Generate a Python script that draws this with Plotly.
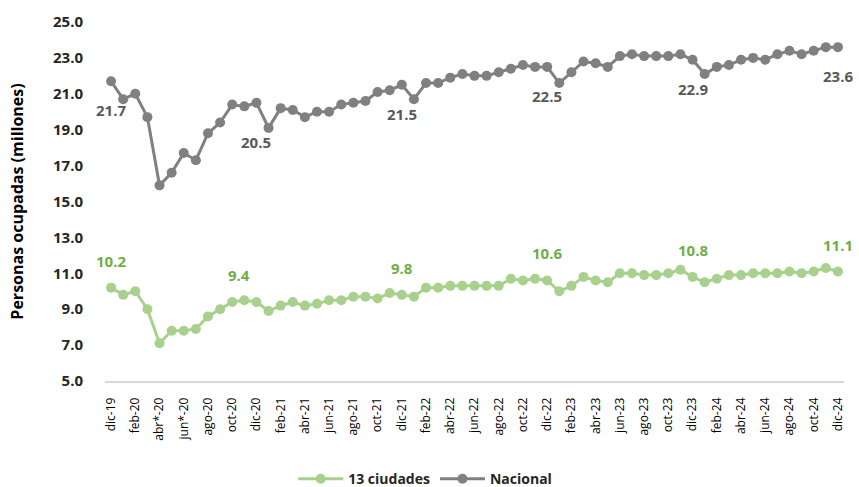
import plotly.graph_objects as go

# meses dic-19 .. dic-24
meses = ['dic-19', 'ene-20', 'feb-20', 'mar-20', 'abr*-20', 'may*-20', 'jun*-20', 'jul-20',
         'ago-20', 'sep-20', 'oct-20', 'nov-20', 'dic-20',
         'ene-21', 'feb-21', 'mar-21', 'abr-21', 'may-21', 'jun-21', 'jul-21',
         'ago-21', 'sep-21', 'oct-21', 'nov-21', 'dic-21',
         'ene-22', 'feb-22', 'mar-22', 'abr-22', 'may-22', 'jun-22', 'jul-22',
         'ago-22', 'sep-22', 'oct-22', 'nov-22', 'dic-22',
         'ene-23', 'feb-23', 'mar-23', 'abr-23', 'may-23', 'jun-23', 'jul-23',
         'ago-23', 'sep-23', 'oct-23', 'nov-23', 'dic-23',
         'ene-24', 'feb-24', 'mar-24', 'abr-24', 'may-24', 'jun-24', 'jul-24',
         'ago-24', 'sep-24', 'oct-24', 'nov-24', 'dic-24']

nacional = [21.7, 20.7, 21.0, 19.7, 15.9, 16.6, 17.7, 17.3, 18.8, 19.4, 20.4, 20.3, 20.5,
            19.1, 20.2, 20.1, 19.7, 20.0, 20.0, 20.4, 20.5, 20.6, 21.1, 21.2, 21.5,
            20.7, 21.6, 21.6, 21.9, 22.1, 22.0, 22.0, 22.2, 22.4, 22.6, 22.5, 22.5,
            21.6, 22.2, 22.8, 22.7, 22.5, 23.1, 23.2, 23.1, 23.1, 23.1, 23.2, 22.9,
            22.1, 22.5, 22.6, 22.9, 23.0, 22.9, 23.2, 23.4, 23.2, 23.4, 23.6, 23.6]

ciudades = [10.2, 9.8, 10.0, 9.0, 7.1, 7.8, 7.8, 7.9, 8.6, 9.0, 9.4, 9.5, 9.4,
            8.9, 9.2, 9.4, 9.2, 9.3, 9.5, 9.5, 9.7, 9.7, 9.6, 9.9, 9.8,
            9.7, 10.2, 10.2, 10.3, 10.3, 10.3, 10.3, 10.3, 10.7, 10.6, 10.7, 10.6,
            10.0, 10.3, 10.8, 10.6, 10.5, 11.0, 11.0, 10.9, 10.9, 11.0, 11.2, 10.8,
            10.5, 10.7, 10.9, 10.9, 11.0, 11.0, 11.0, 11.1, 11.0, 11.1, 11.3, 11.1]

tick_text = ['dic-19', 'feb-20', 'abr*-20', 'jun*-20', 'ago-20', 'oct-20', 'dic-20',
             'feb-21', 'abr-21', 'jun-21', 'ago-21', 'oct-21', 'dic-21',
             'feb-22', 'abr-22', 'jun-22', 'ago-22', 'oct-22', 'dic-22',
             'feb-23', 'abr-23', 'jun-23', 'ago-23', 'oct-23', 'dic-23',
             'feb-24', 'abr-24', 'jun-24', 'ago-24', 'oct-24', 'dic-24']

# puntos con etiqueta (diciembres)
etiquetas = ['dic-19', 'dic-20', 'dic-21', 'dic-22', 'dic-23', 'dic-24']

GRIS = '#808080'
VERDE = '#a9d18e'
FONT = 'Open Sans'

x = list(range(len(meses)))

fig = go.Figure()
fig.add_trace(go.Scatter(
    x=x, y=ciudades, mode='lines+markers', name='13 ciudades',
    line=dict(color=VERDE, width=3),
    marker=dict(color=VERDE, size=10)
))
fig.add_trace(go.Scatter(
    x=x, y=nacional, mode='lines+markers', name='Nacional',
    line=dict(color=GRIS, width=3),
    marker=dict(color=GRIS, size=10)
))

for mes in etiquetas:
    i = meses.index(mes)
    # la etiqueta de dic-20 esta corrida en el original
    xs = -17 if mes == 'dic-20' else 0
    ys = -39 if mes == 'dic-20' else -29
    fig.add_annotation(x=i, y=ciudades[i], text='%.1f' % ciudades[i],
                       showarrow=False, yshift=27, xshift=xs,
                       font=dict(family=FONT, size=15, color='#70ad47', weight='bold'))
    fig.add_annotation(x=i, y=nacional[i], text='%.1f' % nacional[i],
                       showarrow=False, yshift=ys,
                       font=dict(family=FONT, size=15, color='#595959', weight='bold'))

fig.update_xaxes(
    range=[-0.5, len(meses) - 0.5],
    tickmode='array',
    tickvals=[meses.index(t) for t in tick_text],
    ticktext=tick_text,
    tickangle=-90,
    tickfont=dict(family=FONT, size=12, color='#000000'),
    ticklabelstandoff=10,
    showgrid=False,
    zeroline=False,
    showline=True,
    linecolor='#d9d9d9',
    linewidth=1.5,
    ticks='',
    automargin=False
)
fig.update_yaxes(
    range=[5, 25],
    tickvals=[5, 7, 9, 11, 13, 15, 17, 19, 21, 23, 25],
    tickformat='.1f',
    tickfont=dict(family=FONT, size=15, color='#262626', weight='bold'),
    ticklabelstandoff=21,
    showgrid=False,
    zeroline=False,
    showline=False,
    automargin=False,
    title=dict(text='Personas ocupadas (millones)',
               font=dict(family=FONT, size=16, color='#000000', weight='bold'),
               standoff=25)
)

fig.update_layout(
    width=859,
    height=487,
    margin=dict(l=105, r=15, t=22, b=106),
    paper_bgcolor='white',
    plot_bgcolor='white',
    showlegend=True,
    legend=dict(orientation='h', x=0.495, xanchor='center', xref='container',
                y=0.016, yanchor='middle', yref='container', itemwidth=45,
                font=dict(family=FONT, size=14, color='#262626', weight='bold')),
)

# sin margen del body para que la figura ocupe la ventana exacta
fig.write_html("out.html", config={'displayModeBar': False},
               post_script="document.body.style.margin='0';")
